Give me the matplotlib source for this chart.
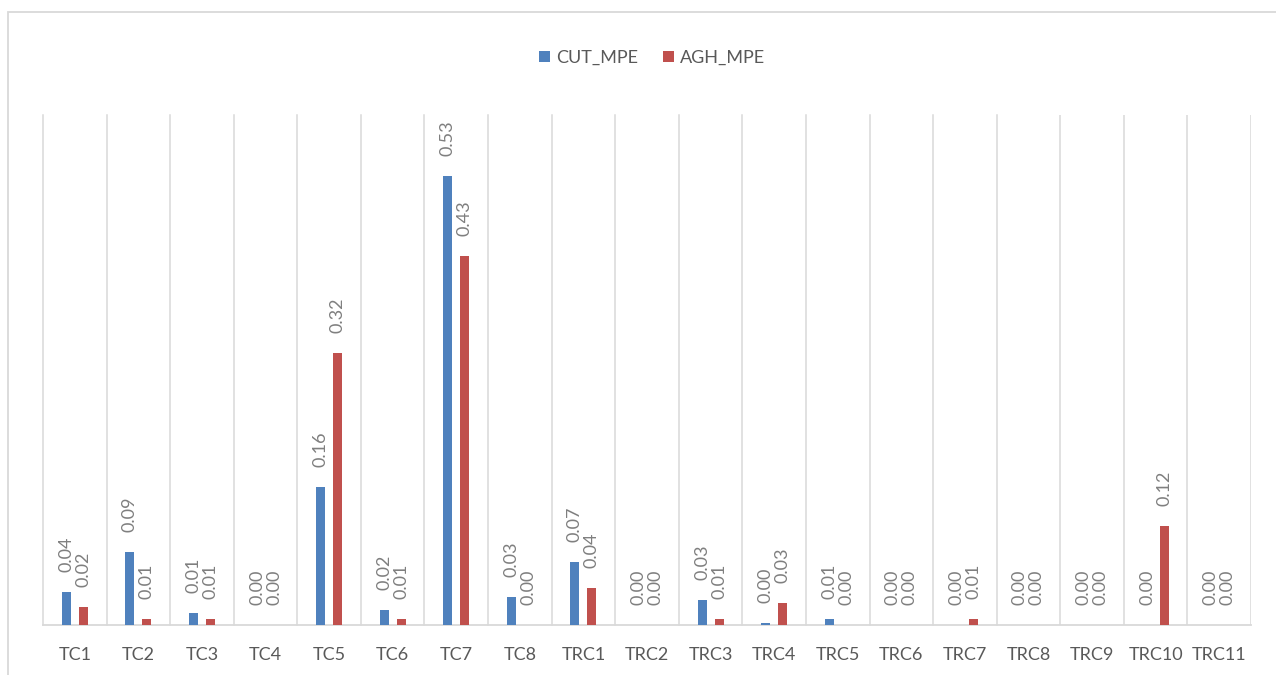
import matplotlib
matplotlib.use("Agg")
import matplotlib.pyplot as plt
import numpy as np
from matplotlib.patches import Rectangle, Patch

plt.rcParams['font.family'] = ['Lato', 'DejaVu Sans']

categories = ["TC1", "TC2", "TC3", "TC4", "TC5", "TC6", "TC7", "TC8",
              "TRC1", "TRC2", "TRC3", "TRC4", "TRC5", "TRC6", "TRC7",
              "TRC8", "TRC9", "TRC10", "TRC11"]
cut_mpe = [0.039, 0.086, 0.0145, 0.0, 0.162, 0.0176, 0.528, 0.033,
           0.074, 0.0, 0.029, 0.0027, 0.0067, 0.0, 0.0,
           0.0, 0.0, 0.0, 0.0]
agh_mpe = [0.0216, 0.0067, 0.0067, 0.0, 0.32, 0.0067, 0.434, 0.0,
           0.043, 0.0, 0.0067, 0.0255, 0.0, 0.0, 0.0067,
           0.0, 0.0, 0.117, 0.0]
series_names = ["CUT_MPE", "AGH_MPE"]
series_colors = ["#4F81BD", "#C0504D"]

W, H = 1276, 675
fig = plt.figure(figsize=(W / 100, H / 100), dpi=100)
ax = fig.add_axes([43 / W, 1 - 625 / H, (1251 - 43) / W, (625 - 115) / H])

x = np.arange(len(categories))
bar_w = 0.142
offset = 0.134
grey_lbl = "#7F7F7F"

for vals, off, col in zip([cut_mpe, agh_mpe], [-offset, offset], series_colors):
    bars = ax.bar(x + off, vals, width=bar_w, color=col, zorder=3)
    for rect, v in zip(bars, vals):
        ax.annotate(f"{v:.2f}",
                    xy=(rect.get_x() + rect.get_width() / 2, v),
                    xytext=(0, 14.4), textcoords="offset points",
                    rotation=90, ha="center", va="bottom",
                    fontsize=13, color=grey_lbl)

ax.set_xlim(-0.5, len(categories) - 0.5)
ax.set_ylim(0, 0.6)

# vertical lines on the category boundaries
ax.set_xticks(np.arange(len(categories) + 1) - 0.5, minor=True)
ax.grid(True, which="minor", axis="x", color="#D9D9D9", linewidth=1.1, zorder=0)
ax.grid(False, which="major")
ax.tick_params(axis="x", which="minor", length=0)
for tick in ax.xaxis.get_minor_ticks():
    tick.gridline.set_clip_on(False)

ax.set_xticks(x)
ax.set_xticklabels(categories, fontsize=13, color="#595959")
ax.tick_params(axis="x", which="major", length=0, pad=15.5)
ax.set_yticks([])

for side in ["left", "right", "top"]:
    ax.spines[side].set_visible(False)
ax.spines["bottom"].set_color("#D9D9D9")
ax.spines["bottom"].set_linewidth(1.3)
ax.set_facecolor("none")

handles = [Patch(facecolor=c, edgecolor="none") for c in series_colors]
fig.legend(handles, series_names, loc="center", bbox_to_anchor=(0.511, 0.914),
           ncol=2, frameon=False, fontsize=13, labelcolor="#595959",
           handlelength=0.61, handleheight=0.61, handletextpad=0.33,
           columnspacing=1.4)

# outer chart frame
fig.patches.append(Rectangle((8 / W, -0.05), 1.2, 1.05 - 12 / H,
                             transform=fig.transFigure, fill=False,
                             edgecolor="#D9D9D9", linewidth=1.3))

fig.savefig("out.png", dpi=100)
